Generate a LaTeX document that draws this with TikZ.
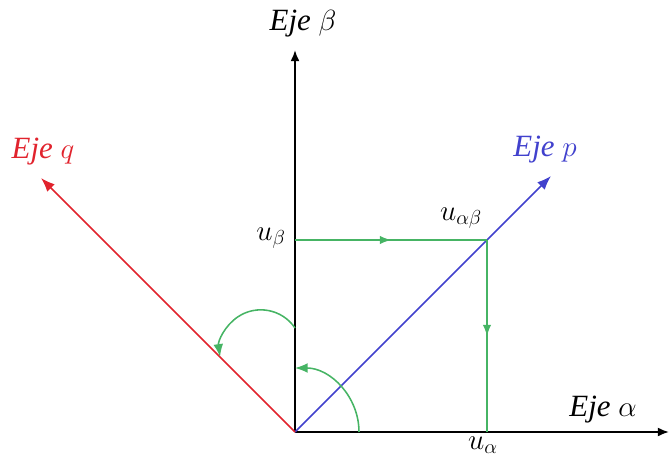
\documentclass[tikz,border=0pt]{standalone}
\usepackage{fontspec}
\setmainfont{Liberation Serif}
\usepackage{tikz}
\usetikzlibrary{arrows.meta,decorations.markings}
\definecolor{ejegreen}{RGB}{70,180,100}
\definecolor{ejered}{RGB}{225,35,45}
\definecolor{ejeblue}{RGB}{65,65,205}
\tikzset{
  axis/.style={line width=1.4pt,-{Latex[length=8pt,width=6.5pt]}},
  rotaxis/.style={line width=1.2pt,-{Latex[length=10pt,width=7.5pt]}},
  comp/.style={ejegreen,line width=0.9pt,postaction={decorate},
    decoration={markings,mark=at position 0.5 with {\arrow{Latex[length=8pt,width=6pt]}}}},
  angarc/.style={ejegreen,line width=1.1pt,-{Latex[length=9pt,width=7pt]}},
  lbl/.style={font=\fontsize{22}{26}\selectfont\itshape},
}
\begin{document}
\begin{tikzpicture}
        \useasboundingbox (-7.375,-0.625) rectangle (9.4,10.8);
        %% Puntos
        \coordinate (O) at (0,0);
        \coordinate (aend) at (9.35,0);
        \coordinate (bend) at (0,9.55);
        \coordinate (pend) at (6.4,6.4);
        \coordinate (qend) at (-6.35,6.35);
        \coordinate (ua) at (4.8,0);
        \coordinate (ub) at (0,4.8);
        \coordinate (uab) at (4.8,4.8);
        %% Ejes
        \draw[axis] (O) -- (aend);
        \draw[axis] (O) -- (bend);
        \draw[rotaxis,ejeblue] (O) -- (pend);
        \draw[rotaxis,ejered] (O) -- (qend);
        %% Componentes
        \draw[comp] (ub) -- (uab);
        \draw[comp] (uab) -- (ua);
        %% Angulos
        \draw[angarc] (1.6,0) arc[start angle=0,end angle=90,radius=1.6];
        \draw[angarc] (0,2.6) arc[start angle=34,end angle=188,radius=1.03];
        %% Textos
        \node[lbl] (ejea) at (7.7,0.55) {Eje $\alpha$};
        \node[lbl] (ejeb) at (0.2,10.22) {Eje $\beta$};
        \node[lbl,ejeblue] (ejep) at (6.25,7.05) {Eje $p$};
        \node[lbl,ejered] (ejeq) at (-6.3,7.0) {Eje $q$};
        \node[lbl] (lua) at (4.7,-0.33) {$u_\alpha$};
        \node[lbl] (lub) at (-0.6,4.85) {$u_\beta$};
        \node[lbl] (luab) at (4.15,5.35) {$u_{\alpha\beta}$};
\end{tikzpicture}
\end{document}
